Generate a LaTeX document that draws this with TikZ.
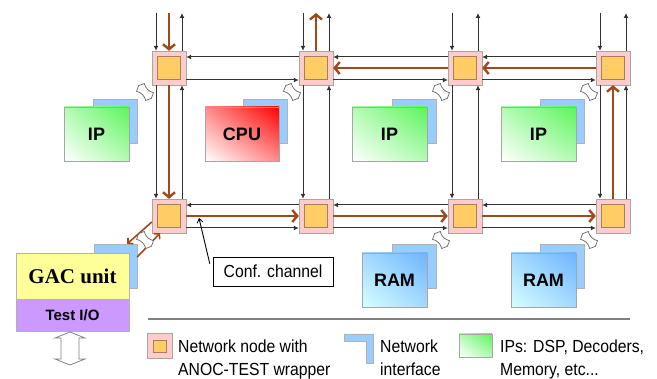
\documentclass[tikz,border=0pt]{standalone}
\usepackage{fontspec}
\setmainfont{Liberation Sans}
\newfontfamily\gacfont{Liberation Serif}
\newfontfamily\narrowfont[FakeStretch=0.9]{Liberation Sans}
\usetikzlibrary{arrows.meta,shadings,positioning,calc}

\definecolor{routerpink}{RGB}{255,204,204}
\definecolor{coreorange}{RGB}{255,204,102}
\definecolor{niblue}{RGB}{153,204,255}
\definecolor{linkgray}{RGB}{50,50,50}
\definecolor{pathbrown}{RGB}{158,72,28}
\definecolor{ipgreen}{RGB}{90,245,90}
\definecolor{cpured}{RGB}{255,0,0}
\definecolor{gacyellow}{RGB}{255,255,153}
\definecolor{iopurple}{RGB}{204,153,255}
\definecolor{ramblue}{RGB}{110,180,255}
\definecolor{ramcyan}{RGB}{215,255,255}

\tikzset{
  router/.style={draw=gray!70, fill=routerpink, minimum size=34pt, inner sep=0pt},
  core/.style={draw=brown!50!gray, fill=coreorange, minimum size=23pt, inner sep=0pt},
  nibox/.style={draw=gray!60, fill=niblue, minimum size=44pt, inner sep=0pt},
  blockbox/.style={draw=gray!70, minimum height=54pt, inner sep=0pt,
    font=\bfseries\fontsize{18}{20}\selectfont},
  ipshade/.style={lower left=white, upper right=ipgreen,
    upper left=ipgreen!45!white, lower right=ipgreen!45!white},
  cpushade/.style={lower left=white, upper right=cpured,
    upper left=cpured!45!white, lower right=cpured!45!white},
  ramshade/.style={lower left=ramcyan, upper right=ramblue,
    upper left=ramblue!50!ramcyan, lower right=ramblue!50!ramcyan},
  nisym/.pic={
    \filldraw[draw=gray!80!black, fill=white, line width=0.7pt]
      (-9,0) -- (-6.5,5.5) .. controls (-2.5,3) and (2.5,3) .. (6.5,5.5) -- (9,0)
      -- (6.5,-5.5) .. controls (2.5,-3) and (-2.5,-3) .. (-6.5,-5.5) -- cycle;
  },
  thinlink/.style={draw=linkgray, line width=1pt, -{Latex[length=5pt,width=5pt]}},
  confpath/.style={draw=pathbrown, line width=2.4pt, -{Straight Barb[length=5pt,width=12pt]}},
  gaclink/.style={draw=pathbrown, line width=1.6pt, -{Straight Barb[length=3.5pt,width=8pt]}},
  legendtext/.style={anchor=north west, inner sep=0pt, align=left,
    font=\narrowfont\fontsize{17.5}{23}\selectfont}
}

\begin{document}
\begin{tikzpicture}[x=1pt,y=-1pt]
\useasboundingbox (0,0) rectangle (657,379);

% processing blocks with their network interfaces
\node[nibox] (ni1) at (115,121) {};
\node[blockbox, ipshade, minimum width=65pt] (ip1) at (96.5,134) {IP};
\node[nibox] (ni2) at (265,121) {};
\node[blockbox, cpushade, minimum width=74pt] (cpu) at (242,134) {CPU};
\node[nibox] (ni3) at (414,121) {};
\node[blockbox, ipshade, minimum width=75pt] (ip3) at (389.5,134) {IP};
\node[nibox] (ni4) at (562,121) {};
\node[blockbox, ipshade, minimum width=75pt] (ip4) at (538.5,134) {IP};
\node[nibox] (ni5) at (414,266) {};
\node[blockbox, ramshade, minimum width=65pt] (ram1) at (394.5,280) {RAM};
\node[nibox] (ni6) at (562,266) {};
\node[blockbox, ramshade, minimum width=65pt] (ram2) at (543.5,280) {RAM};

% network nodes
\foreach \i/\x in {1/169,2/316,3/465,4/613}{
  \coordinate (t\i) at (\x,13);
  \foreach \j/\y in {1/68,2/216}{
    \node[router] (r\i\j) at (\x,\y) {};
    \node[core] (c\i\j) at (r\i\j) {};
  }
}

% links
\foreach \i in {1,...,4}{
  \draw[thinlink] ([xshift=-13pt]t\i) -- ([xshift=-13pt]r\i1.north);
  \draw[thinlink] ([xshift=13pt]r\i1.north) -- ([xshift=13pt]t\i);
  \draw[thinlink] ([xshift=-13pt]r\i1.south) -- ([xshift=-13pt]r\i2.north);
  \draw[thinlink] ([xshift=13pt]r\i2.north) -- ([xshift=13pt]r\i1.south);
}
\foreach \i/\k in {1/2,2/3,3/4}{
  \foreach \j in {1,2}{
    \draw[thinlink] ([yshift=11pt]r\k\j.west) -- ([yshift=11pt]r\i\j.east);
    \draw[thinlink] ([yshift=-12pt]r\i\j.east) -- ([yshift=-12pt]r\k\j.west);
  }
}

% configuration channel
\draw[confpath] (t1) -- (r11.north);
\draw[confpath] (r11.south) -- (r12.north);
\draw[confpath] (r12.east) -- (r22.west);
\draw[confpath] (r22.east) -- (r32.west);
\draw[confpath] (r32.east) -- (r42.west);
\draw[confpath] (r42.north) -- (r41.south);
\draw[confpath] (r41.west) -- (r31.east);
\draw[confpath] (r31.west) -- (r21.east);
\draw[confpath] (r21.north) -- (t2);

% GAC unit
\node[nibox, minimum width=43pt] (gacni) at (115.5,266) {};
\node[draw=gray!60, fill=gacyellow, minimum width=113pt, minimum height=46pt, inner sep=0pt,
  font=\gacfont\bfseries\fontsize{21}{24}\selectfont] (gac) at (72.5,276) {GAC unit};
\node[draw=gray!60, fill=iopurple, minimum width=113pt, minimum height=32pt, inner sep=0pt,
  font=\bfseries\fontsize{15}{18}\selectfont, below=0pt of gac] (testio) {Test I/O};
\filldraw[draw=gray, fill=white, line width=0.8pt] (70,332) -- (85,338) -- (79,338) -- (79,359)
  -- (85,359) -- (70,365) -- (55,359) -- (61,359) -- (61,338) -- (55,338) -- cycle;
\draw[gaclink] ([yshift=-6pt]r12.west) -- ([xshift=-10pt]gacni.north east);
\draw[gaclink] ([yshift=9pt]gacni.east) -- ([xshift=-9pt]r12.south);

% network interfaces
\foreach \n in {11,21,31,41,12,32,42}
  \pic[rotate=-45] at ([shift={(-24,24)}]r\n) {nisym};

% label
\node[draw=black, minimum width=120pt, minimum height=29pt, inner sep=0pt,
  font=\narrowfont\fontsize{17.5}{20}\selectfont] (conf) at (273,271.5) {Conf. channel};
\coordinate (confpt) at (199,218);
\draw[black, line width=0.9pt, -{Straight Barb[length=4pt,width=6pt]}]
  ([xshift=-3pt,yshift=-7pt]conf.north west) -- (confpt);

% legend
\draw[gray, line width=2pt] (148,319) -- (630,319);
\node[router, minimum size=25pt] (lrouter) at (159.5,346) {};
\node[core, minimum size=12.5pt] (lcore) at (lrouter) {};
\node[legendtext] (ltext1) at (178,339.5) {Network node with\\ANOC-TEST wrapper};
\filldraw[fill=niblue, draw=gray!60] (344,334) -- (373,334) -- (373,363) -- (366,363)
  -- (366,341) -- (344,341) -- cycle;
\node[legendtext] (ltext2) at (380,339.5) {Network\\interface};
\node[draw=gray!70, ipshade, minimum width=33pt, minimum height=23pt, inner sep=0pt] (lip) at (475.5,345.5) {};
\node[legendtext] (ltext3) at (500,339.5) {IPs: DSP, Decoders,\\Memory, etc...};
\end{tikzpicture}
\end{document}
